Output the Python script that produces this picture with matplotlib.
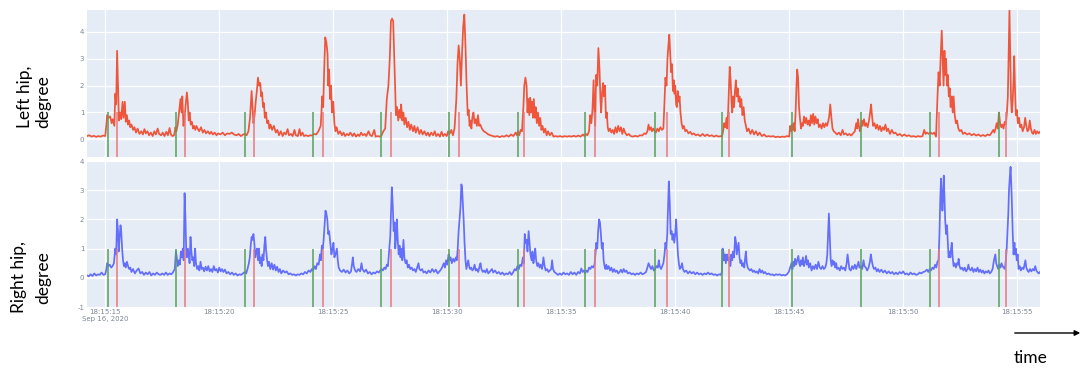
import numpy as np
import matplotlib
matplotlib.use("Agg")
import matplotlib.pyplot as plt

# ---------------- data (seconds after 18:15:00, value in degrees) ----------------
left_hip = [
    (14.20, 0.12), (14.30, 0.15), (14.40, 0.10), (14.50, 0.13), (14.60, 0.09), (14.70, 0.12), (14.80, 0.10), (14.90, 0.14), (15.00, 0.12),
    (15.05, 0.55), (15.08, 0.90), (15.15, 0.80), (15.22, 0.85), (15.28, 0.60), (15.33, 0.75), (15.40, 0.50), (15.44, 1.70), (15.48, 1.30),
    (15.52, 3.30), (15.56, 2.00), (15.60, 0.70), (15.65, 1.00), (15.70, 0.75), (15.76, 1.40), (15.80, 0.80), (15.86, 1.40), (15.90, 0.65),
    (15.95, 0.90), (16.00, 0.55), (16.05, 0.70), (16.10, 0.45), (16.15, 0.55), (16.22, 0.35), (16.28, 0.45), (16.35, 0.25), (16.42, 0.40),
    (16.50, 0.20), (16.58, 0.30), (16.65, 0.18), (16.72, 0.38), (16.78, 0.22), (16.85, 0.30), (16.92, 0.15), (17.00, 0.25), (17.08, 0.12),
    (17.15, 0.30), (17.22, 0.18), (17.30, 0.40), (17.36, 0.20), (17.45, 0.15), (17.52, 0.25), (17.60, 0.12), (17.68, 0.28), (17.75, 0.15),
    (17.82, 0.42), (17.88, 0.18), (17.95, 0.12), (18.02, 0.15),
    (18.08, 0.45), (18.12, 0.30), (18.18, 0.55), (18.25, 1.10), (18.30, 1.50), (18.35, 1.00), (18.38, 1.60), (18.43, 0.50), (18.48, 0.80),
    (18.52, 1.20), (18.58, 1.75), (18.62, 1.40), (18.66, 0.70), (18.70, 1.00), (18.75, 0.55), (18.80, 0.65), (18.85, 0.40), (18.90, 0.50),
    (18.95, 0.35), (19.00, 0.50), (19.05, 0.40), (19.12, 0.30), (19.20, 0.45), (19.28, 0.25), (19.35, 0.35), (19.42, 0.22), (19.50, 0.30),
    (19.58, 0.20), (19.65, 0.28), (19.72, 0.18), (19.80, 0.25), (19.88, 0.15), (19.95, 0.22), (20.05, 0.18), (20.15, 0.25), (20.25, 0.15),
    (20.35, 0.22), (20.45, 0.20), (20.55, 0.25), (20.65, 0.18), (20.75, 0.15), (20.85, 0.20), (20.95, 0.12), (21.05, 0.18),
    (21.12, 0.20), (21.20, 0.15), (21.28, 0.30), (21.35, 0.80), (21.42, 1.80), (21.46, 1.20), (21.50, 0.60), (21.55, 0.90), (21.60, 1.40),
    (21.65, 1.80), (21.70, 2.30), (21.75, 2.00), (21.80, 2.10), (21.84, 1.60), (21.88, 1.75), (21.92, 1.20), (21.96, 1.35), (22.00, 0.80),
    (22.05, 1.00), (22.10, 0.60), (22.15, 0.70), (22.20, 0.40), (22.25, 0.55), (22.32, 0.35), (22.40, 0.50), (22.48, 0.25), (22.55, 0.35),
    (22.62, 0.15), (22.70, 0.30), (22.78, 0.12), (22.85, 0.25), (22.92, 0.18), (23.00, 0.38), (23.06, 0.15), (23.15, 0.20), (23.22, 0.12),
    (23.30, 0.35), (23.36, 0.15), (23.45, 0.12), (23.52, 0.38), (23.58, 0.14), (23.65, 0.25), (23.72, 0.12), (23.80, 0.15), (23.90, 0.12),
    (24.00, 0.15), (24.08, 0.14),
    (24.15, 0.20), (24.25, 0.18), (24.35, 0.30), (24.45, 0.50), (24.52, 1.60), (24.56, 1.20), (24.60, 2.50), (24.65, 3.80), (24.70, 3.60),
    (24.75, 3.20), (24.78, 2.00), (24.82, 2.60), (24.86, 1.50), (24.90, 2.00), (24.95, 1.00), (25.00, 1.40), (25.05, 0.60), (25.10, 0.30),
    (25.15, 0.45), (25.22, 0.20), (25.30, 0.30), (25.38, 0.15), (25.45, 0.25), (25.52, 0.12), (25.60, 0.20), (25.68, 0.15), (25.75, 0.25),
    (25.85, 0.12), (25.92, 0.22), (26.00, 0.10), (26.08, 0.18), (26.15, 0.12), (26.22, 0.25), (26.30, 0.15), (26.38, 0.20), (26.45, 0.12),
    (26.55, 0.30), (26.62, 0.15), (26.70, 0.12), (26.80, 0.35), (26.86, 0.10), (26.95, 0.12), (27.05, 0.10),
    (27.12, 0.15), (27.20, 0.30), (27.28, 0.40), (27.35, 1.50), (27.42, 2.00), (27.48, 3.00), (27.53, 4.40), (27.58, 4.50), (27.63, 4.40),
    (27.68, 3.00), (27.72, 1.80), (27.75, 0.90), (27.80, 1.20), (27.85, 0.70), (27.90, 1.10), (27.95, 0.80), (27.98, 1.30), (28.03, 0.70),
    (28.08, 1.00), (28.12, 0.55), (28.18, 0.80), (28.24, 0.45), (28.30, 0.65), (28.36, 0.35), (28.42, 0.55), (28.50, 0.30), (28.56, 0.50),
    (28.62, 0.25), (28.70, 0.45), (28.78, 0.20), (28.85, 0.35), (28.92, 0.18), (29.00, 0.30), (29.08, 0.15), (29.15, 0.25), (29.22, 0.12),
    (29.30, 0.25), (29.38, 0.15), (29.45, 0.30), (29.52, 0.12), (29.60, 0.20), (29.68, 0.10), (29.75, 0.28), (29.82, 0.12), (29.90, 0.20),
    (29.98, 0.12), (30.04, 0.30),
    (30.10, 0.20), (30.18, 0.35), (30.25, 0.15), (30.32, 0.40), (30.40, 1.50), (30.45, 2.80), (30.50, 3.50), (30.55, 3.00), (30.60, 2.00),
    (30.65, 3.20), (30.70, 4.20), (30.75, 4.65), (30.80, 3.50), (30.85, 2.00), (30.90, 0.90), (30.94, 1.10), (30.98, 0.50), (31.02, 0.70),
    (31.06, 0.40), (31.10, 0.80), (31.15, 1.00), (31.20, 0.60), (31.25, 0.75), (31.30, 0.50), (31.35, 0.90), (31.40, 0.50), (31.45, 0.55),
    (31.52, 0.40), (31.60, 0.30), (31.70, 0.25), (31.80, 0.18), (31.90, 0.15), (32.00, 0.12), (32.10, 0.10), (32.20, 0.12), (32.30, 0.08),
    (32.40, 0.12), (32.50, 0.10), (32.60, 0.15), (32.70, 0.10), (32.80, 0.18), (32.90, 0.12), (33.00, 0.25), (33.06, 0.15),
    (33.10, 0.30), (33.16, 0.15), (33.22, 0.35), (33.28, 0.30), (33.34, 1.20), (33.38, 2.00), (33.43, 2.30), (33.48, 2.00), (33.52, 1.00),
    (33.56, 1.50), (33.60, 0.90), (33.64, 1.55), (33.68, 1.00), (33.72, 1.40), (33.76, 0.80), (33.80, 1.50), (33.84, 0.80), (33.88, 1.20),
    (33.93, 0.60), (33.98, 1.00), (34.03, 0.50), (34.08, 0.80), (34.13, 0.35), (34.18, 0.50), (34.24, 0.25), (34.30, 0.40), (34.36, 0.15),
    (34.42, 0.30), (34.50, 0.15), (34.58, 0.25), (34.66, 0.10), (34.75, 0.12), (34.85, 0.10), (34.95, 0.12), (35.05, 0.09), (35.15, 0.12),
    (35.25, 0.10), (35.35, 0.12), (35.45, 0.10), (35.55, 0.13), (35.65, 0.10), (35.75, 0.14), (35.85, 0.10), (35.95, 0.18), (36.02, 0.12),
    (36.08, 0.20), (36.15, 0.15), (36.22, 0.30), (36.27, 0.90), (36.32, 0.60), (36.37, 1.10), (36.42, 2.20), (36.46, 1.00), (36.49, 0.50),
    (36.53, 2.40), (36.58, 2.00), (36.63, 3.40), (36.68, 2.60), (36.72, 1.50), (36.75, 1.00), (36.80, 1.80), (36.84, 2.10), (36.88, 1.60),
    (36.92, 2.00), (36.96, 0.80), (37.00, 1.00), (37.04, 0.45), (37.08, 0.30), (37.14, 0.40), (37.20, 0.25), (37.26, 0.35), (37.32, 0.20),
    (37.38, 0.45), (37.44, 0.25), (37.50, 0.50), (37.56, 0.30), (37.62, 0.45), (37.68, 0.20), (37.74, 0.40), (37.80, 0.25), (37.88, 0.15),
    (37.96, 0.20), (38.05, 0.12), (38.15, 0.10), (38.25, 0.13), (38.35, 0.10), (38.45, 0.15), (38.55, 0.14), (38.65, 0.22), (38.72, 0.20),
    (38.78, 0.30), (38.83, 0.55), (38.88, 0.35), (38.94, 0.45), (38.98, 0.30), (39.04, 0.40), (39.10, 0.30),
    (39.15, 0.25), (39.22, 0.40), (39.28, 0.30), (39.35, 0.45), (39.42, 0.35), (39.48, 0.40), (39.53, 1.40), (39.57, 2.30), (39.62, 2.00),
    (39.66, 3.00), (39.70, 3.50), (39.74, 3.90), (39.78, 3.20), (39.82, 2.50), (39.86, 2.80), (39.90, 1.80), (39.94, 2.20), (39.97, 1.70),
    (40.00, 2.00), (40.04, 1.30), (40.07, 1.20), (40.11, 1.80), (40.15, 1.40), (40.19, 1.60), (40.23, 1.00), (40.28, 0.60), (40.33, 0.40),
    (40.38, 0.50), (40.44, 0.30), (40.50, 0.35), (40.58, 0.22), (40.66, 0.28), (40.74, 0.18), (40.82, 0.22), (40.90, 0.15), (41.00, 0.18),
    (41.10, 0.12), (41.20, 0.20), (41.30, 0.12), (41.40, 0.18), (41.50, 0.12), (41.60, 0.15), (41.70, 0.10), (41.80, 0.14), (41.90, 0.10),
    (42.00, 0.12), (42.05, 0.10),
    (42.10, 0.30), (42.15, 0.60), (42.20, 0.45), (42.25, 0.80), (42.28, 0.40), (42.32, 1.00), (42.36, 2.00), (42.39, 2.70), (42.43, 2.20),
    (42.47, 1.40), (42.50, 1.00), (42.54, 1.60), (42.58, 1.20), (42.62, 1.80), (42.66, 2.20), (42.70, 1.60), (42.74, 1.90), (42.78, 1.40),
    (42.82, 1.60), (42.86, 1.20), (42.90, 1.50), (42.95, 0.90), (43.00, 1.20), (43.05, 0.70), (43.10, 0.50), (43.15, 0.30), (43.22, 0.40),
    (43.30, 0.20), (43.38, 0.35), (43.46, 0.18), (43.54, 0.30), (43.62, 0.15), (43.70, 0.25), (43.80, 0.12), (43.90, 0.18), (44.00, 0.10),
    (44.10, 0.12), (44.20, 0.10), (44.30, 0.12), (44.40, 0.08), (44.50, 0.10), (44.60, 0.08), (44.70, 0.10), (44.80, 0.09), (44.90, 0.12),
    (45.00, 0.10),
    (45.04, 0.50), (45.08, 0.30), (45.12, 0.55), (45.16, 0.35), (45.20, 0.60), (45.24, 0.30), (45.28, 1.00), (45.32, 2.00), (45.35, 2.60),
    (45.39, 2.30), (45.43, 1.20), (45.47, 0.80), (45.52, 0.40), (45.56, 0.60), (45.60, 0.50), (45.65, 0.85), (45.70, 0.60), (45.75, 0.80),
    (45.80, 0.55), (45.85, 0.70), (45.90, 0.50), (45.95, 0.90), (46.00, 0.60), (46.05, 0.95), (46.10, 0.55), (46.15, 0.85), (46.20, 0.60),
    (46.25, 0.75), (46.30, 0.45), (46.36, 0.55), (46.42, 0.40), (46.48, 0.60), (46.54, 0.45), (46.60, 0.60), (46.66, 0.50), (46.72, 0.70),
    (46.76, 0.90), (46.80, 1.30), (46.85, 0.80), (46.90, 0.40), (46.95, 0.30), (47.02, 0.25), (47.10, 0.18), (47.18, 0.25), (47.26, 0.15),
    (47.34, 0.35), (47.40, 0.18), (47.48, 0.22), (47.56, 0.15), (47.64, 0.20), (47.72, 0.14), (47.80, 0.22), (47.88, 0.30), (47.94, 0.60),
    (47.98, 0.40), (48.02, 0.75), (48.06, 0.50), (48.10, 0.30), (48.14, 0.40), (48.18, 0.70), (48.22, 0.50), (48.28, 0.75), (48.33, 0.50),
    (48.38, 0.60), (48.44, 0.45), (48.50, 0.70), (48.55, 1.00), (48.59, 1.30), (48.63, 0.90), (48.68, 0.50), (48.74, 0.60), (48.80, 0.40),
    (48.86, 0.55), (48.92, 0.35), (48.98, 0.50), (49.04, 0.30), (49.10, 0.45), (49.16, 0.35), (49.22, 0.55), (49.28, 0.30), (49.34, 0.40),
    (49.42, 0.20), (49.50, 0.35), (49.58, 0.22), (49.66, 0.25), (49.75, 0.15), (49.85, 0.20), (49.95, 0.12), (50.05, 0.18), (50.15, 0.12),
    (50.25, 0.15), (50.35, 0.10), (50.45, 0.12), (50.55, 0.09), (50.65, 0.12), (50.75, 0.10), (50.85, 0.12), (50.92, 0.35), (50.98, 0.20),
    (51.05, 0.25), (51.12, 0.20),
    (51.20, 0.25), (51.28, 0.20), (51.36, 0.25), (51.44, 0.10), (51.50, 1.50), (51.55, 2.50), (51.60, 2.00), (51.64, 3.00), (51.69, 4.05),
    (51.73, 3.00), (51.77, 2.00), (51.81, 3.30), (51.84, 2.40), (51.88, 3.00), (51.92, 2.00), (51.96, 2.40), (52.00, 1.60), (52.04, 1.90),
    (52.08, 1.20), (52.13, 1.60), (52.17, 1.00), (52.21, 1.60), (52.26, 0.90), (52.31, 0.60), (52.36, 0.70), (52.42, 0.40), (52.48, 0.30),
    (52.55, 0.35), (52.62, 0.20), (52.70, 0.25), (52.80, 0.18), (52.90, 0.22), (53.00, 0.15), (53.10, 0.20), (53.20, 0.14), (53.30, 0.18),
    (53.40, 0.12), (53.50, 0.16), (53.60, 0.12), (53.70, 0.18), (53.80, 0.15), (53.88, 0.25), (53.95, 0.35), (54.00, 0.25),
    (54.05, 0.40), (54.10, 0.60), (54.15, 0.40), (54.20, 1.00), (54.25, 0.60), (54.30, 0.45), (54.35, 0.55), (54.40, 0.40), (54.45, 0.65),
    (54.50, 0.55), (54.55, 1.00), (54.59, 1.60), (54.63, 3.50), (54.66, 4.80), (54.70, 3.00), (54.73, 1.50), (54.76, 1.00), (54.80, 1.40),
    (54.84, 2.20), (54.87, 3.10), (54.90, 2.00), (54.94, 0.90), (54.98, 1.10), (55.03, 0.60), (55.08, 0.80), (55.13, 0.45), (55.18, 0.55),
    (55.24, 0.30), (55.30, 0.45), (55.35, 0.80), (55.40, 0.50), (55.45, 0.30), (55.50, 0.35), (55.55, 0.70), (55.60, 0.40), (55.65, 0.25),
    (55.70, 0.20), (55.76, 0.35), (55.82, 0.20), (55.88, 0.30), (55.94, 0.22), (56.00, 0.28),
]

right_hip = [
    (14.20, 0.08), (14.28, 0.05), (14.36, 0.12), (14.44, 0.06), (14.52, 0.15), (14.60, 0.08), (14.68, 0.12), (14.76, 0.10), (14.84, 0.18),
    (14.92, 0.10), (15.00, 0.12),
    (15.05, 0.30), (15.08, 0.50), (15.14, 0.40), (15.20, 0.45), (15.26, 0.35), (15.32, 0.40), (15.38, 0.50), (15.44, 1.00), (15.48, 0.80),
    (15.52, 2.00), (15.56, 1.60), (15.59, 0.90), (15.63, 1.40), (15.67, 1.80), (15.70, 1.60), (15.74, 1.00), (15.78, 0.60), (15.82, 0.40),
    (15.86, 0.50), (15.90, 0.35), (15.95, 0.55), (16.00, 0.40), (16.05, 0.30), (16.10, 0.35), (16.15, 0.20), (16.22, 0.30), (16.30, 0.15),
    (16.38, 0.25), (16.46, 0.32), (16.54, 0.15), (16.62, 0.20), (16.70, 0.10), (16.78, 0.18), (16.86, 0.12), (16.94, 0.20), (17.02, 0.08),
    (17.10, 0.15), (17.18, 0.10), (17.26, 0.18), (17.34, 0.12), (17.42, 0.10), (17.50, 0.15), (17.58, 0.10), (17.66, 0.18), (17.74, 0.10),
    (17.82, 0.15), (17.90, 0.12), (17.98, 0.20),
    (18.05, 0.30), (18.10, 0.90), (18.14, 0.70), (18.18, 0.40), (18.22, 0.60), (18.27, 0.45), (18.32, 0.90), (18.36, 0.70), (18.40, 1.00),
    (18.44, 0.60), (18.48, 2.90), (18.52, 2.00), (18.55, 1.00), (18.58, 0.70), (18.62, 1.00), (18.66, 0.80), (18.70, 0.50), (18.74, 1.40),
    (18.78, 0.90), (18.82, 0.60), (18.86, 0.70), (18.90, 0.40), (18.94, 1.00), (18.98, 0.50), (19.03, 0.30), (19.08, 0.40), (19.13, 0.25),
    (19.18, 0.55), (19.23, 0.30), (19.28, 0.35), (19.34, 0.22), (19.40, 0.38), (19.46, 0.25), (19.52, 0.40), (19.58, 0.22), (19.64, 0.30),
    (19.70, 0.20), (19.76, 0.40), (19.82, 0.25), (19.88, 0.30), (19.94, 0.18), (20.00, 0.35), (20.06, 0.22), (20.12, 0.30), (20.18, 0.20),
    (20.25, 0.28), (20.32, 0.15), (20.40, 0.20), (20.48, 0.12), (20.56, 0.18), (20.64, 0.10), (20.72, 0.15), (20.80, 0.08), (20.88, 0.12),
    (20.96, 0.10), (21.04, 0.15),
    (21.12, 0.20), (21.18, 0.15), (21.24, 0.30), (21.30, 0.50), (21.34, 0.70), (21.38, 1.10), (21.42, 1.40), (21.46, 1.30), (21.50, 1.50),
    (21.54, 1.20), (21.58, 0.70), (21.62, 0.90), (21.66, 1.00), (21.70, 0.60), (21.74, 1.00), (21.78, 0.50), (21.82, 0.70), (21.86, 0.40),
    (21.90, 0.80), (21.94, 0.60), (21.98, 1.10), (22.02, 1.40), (22.06, 0.90), (22.10, 0.60), (22.14, 0.40), (22.18, 0.55), (22.24, 0.30),
    (22.30, 0.50), (22.36, 0.28), (22.42, 0.45), (22.48, 0.25), (22.54, 0.38), (22.60, 0.20), (22.66, 0.30), (22.72, 0.15), (22.80, 0.25),
    (22.88, 0.18), (22.96, 0.22), (23.04, 0.12), (23.12, 0.15), (23.20, 0.10), (23.28, 0.12), (23.36, 0.08), (23.44, 0.12), (23.52, 0.10),
    (23.60, 0.15), (23.68, 0.12), (23.76, 0.20), (23.84, 0.15), (23.92, 0.25), (24.00, 0.20), (24.06, 0.30),
    (24.12, 0.25), (24.18, 0.40), (24.24, 0.30), (24.30, 0.50), (24.36, 0.45), (24.42, 0.80), (24.46, 0.60), (24.50, 1.10), (24.54, 1.00),
    (24.58, 1.30), (24.62, 1.80), (24.66, 2.30), (24.70, 2.20), (24.74, 2.00), (24.78, 1.50), (24.82, 1.60), (24.87, 1.20), (24.92, 0.80),
    (24.97, 1.00), (25.01, 1.20), (25.05, 0.70), (25.10, 0.80), (25.16, 1.00), (25.20, 0.60), (25.24, 0.35), (25.30, 0.25), (25.38, 0.20),
    (25.46, 0.28), (25.54, 0.18), (25.62, 0.25), (25.70, 0.15), (25.78, 0.22), (25.83, 0.50), (25.86, 0.70), (25.90, 0.40), (25.96, 0.25),
    (26.02, 0.20), (26.10, 0.30), (26.18, 0.22), (26.24, 0.50), (26.28, 0.30), (26.36, 0.20), (26.44, 0.28), (26.52, 0.15), (26.60, 0.20),
    (26.68, 0.12), (26.76, 0.18), (26.84, 0.15), (26.92, 0.22), (27.00, 0.18), (27.06, 0.25),
    (27.12, 0.30), (27.18, 0.25), (27.24, 0.35), (27.30, 0.30), (27.35, 0.45), (27.40, 0.40), (27.45, 0.90), (27.50, 1.40), (27.54, 2.40),
    (27.57, 3.10), (27.61, 2.50), (27.65, 1.60), (27.69, 1.90), (27.72, 1.00), (27.76, 1.40), (27.79, 2.00), (27.83, 1.30), (27.87, 0.80),
    (27.91, 1.10), (27.95, 0.70), (27.99, 1.00), (28.03, 0.60), (28.08, 1.30), (28.12, 0.70), (28.17, 0.50), (28.22, 0.60), (28.27, 0.35),
    (28.32, 0.45), (28.38, 0.30), (28.44, 0.35), (28.50, 0.25), (28.56, 0.30), (28.62, 0.20), (28.68, 0.35), (28.74, 0.50), (28.78, 0.30),
    (28.84, 0.25), (28.90, 0.30), (28.96, 0.18), (29.03, 0.22), (29.10, 0.15), (29.18, 0.25), (29.26, 0.18), (29.34, 0.30), (29.42, 0.20),
    (29.50, 0.28), (29.58, 0.15), (29.66, 0.22), (29.74, 0.30), (29.80, 0.40), (29.85, 0.50), (29.90, 0.35), (29.95, 0.60), (30.00, 0.45),
    (30.06, 0.80), (30.10, 0.60), (30.15, 0.70), (30.20, 0.50), (30.26, 0.65), (30.32, 0.55), (30.38, 0.70), (30.42, 0.60), (30.46, 1.00),
    (30.50, 1.60), (30.54, 2.00), (30.58, 2.40), (30.62, 3.20), (30.65, 3.10), (30.69, 2.50), (30.72, 2.00), (30.76, 1.20), (30.80, 0.60),
    (30.84, 0.30), (30.88, 0.45), (30.92, 0.60), (30.96, 0.40), (31.00, 0.30), (31.05, 0.35), (31.10, 0.25), (31.15, 0.30), (31.20, 0.45),
    (31.25, 0.25), (31.30, 0.30), (31.36, 0.20), (31.42, 0.40), (31.46, 0.50), (31.50, 0.30), (31.56, 0.20), (31.62, 0.25), (31.68, 0.18),
    (31.74, 0.30), (31.80, 0.15), (31.88, 0.22), (31.96, 0.30), (32.02, 0.18), (32.10, 0.25), (32.18, 0.15), (32.26, 0.20), (32.34, 0.12),
    (32.42, 0.18), (32.50, 0.10), (32.58, 0.15), (32.66, 0.12), (32.74, 0.20), (32.82, 0.10), (32.90, 0.20), (32.96, 0.30), (33.02, 0.25),
    (33.08, 0.40), (33.14, 0.30), (33.20, 0.45), (33.26, 0.40), (33.32, 0.70), (33.36, 0.50), (33.40, 1.50), (33.44, 1.20), (33.48, 1.30),
    (33.52, 0.90), (33.57, 1.60), (33.61, 1.20), (33.65, 0.80), (33.70, 0.60), (33.74, 0.90), (33.78, 0.50), (33.82, 0.70), (33.86, 1.00),
    (33.90, 0.60), (33.95, 0.40), (34.00, 0.50), (34.05, 0.35), (34.10, 0.45), (34.16, 0.30), (34.22, 0.70), (34.27, 0.40), (34.32, 0.25),
    (34.38, 0.30), (34.44, 0.20), (34.50, 0.25), (34.56, 0.30), (34.60, 0.60), (34.64, 0.30), (34.70, 0.20), (34.78, 0.15), (34.86, 0.10),
    (34.94, 0.15), (35.02, 0.10), (35.10, 0.18), (35.18, 0.12), (35.26, 0.15), (35.34, 0.10), (35.42, 0.20), (35.50, 0.12), (35.58, 0.18),
    (35.66, 0.10), (35.74, 0.20), (35.82, 0.15), (35.88, 0.32), (35.94, 0.20), (36.00, 0.25),
    (36.05, 0.15), (36.10, 0.25), (36.16, 0.20), (36.22, 0.35), (36.28, 0.30), (36.34, 0.40), (36.40, 0.35), (36.46, 0.45), (36.50, 0.80),
    (36.54, 1.20), (36.58, 1.00), (36.62, 1.60), (36.66, 2.00), (36.70, 1.90), (36.74, 1.50), (36.78, 1.00), (36.82, 1.20), (36.86, 0.60),
    (36.90, 0.40), (36.94, 0.30), (36.98, 0.45), (37.02, 0.30), (37.08, 0.40), (37.14, 0.25), (37.20, 0.35), (37.26, 0.20), (37.32, 0.30),
    (37.38, 0.20), (37.44, 0.25), (37.50, 0.15), (37.56, 0.20), (37.62, 0.28), (37.68, 0.18), (37.74, 0.30), (37.80, 0.20), (37.86, 0.25),
    (37.92, 0.15), (38.00, 0.18), (38.08, 0.12), (38.16, 0.15), (38.24, 0.10), (38.32, 0.15), (38.40, 0.12), (38.48, 0.18), (38.56, 0.12),
    (38.64, 0.15), (38.72, 0.20), (38.78, 0.35), (38.83, 0.50), (38.88, 0.40), (38.94, 0.30), (39.00, 0.40), (39.06, 0.25), (39.12, 0.30),
    (39.18, 0.40), (39.24, 0.35), (39.28, 0.60), (39.32, 0.40), (39.38, 0.30), (39.43, 0.40), (39.48, 0.50), (39.53, 0.80), (39.57, 1.20),
    (39.61, 1.00), (39.65, 1.50), (39.69, 2.50), (39.72, 3.30), (39.76, 2.60), (39.80, 1.50), (39.84, 1.60), (39.88, 1.30), (39.92, 1.50),
    (39.96, 1.20), (40.00, 1.50), (40.04, 2.00), (40.08, 1.40), (40.12, 0.80), (40.16, 0.50), (40.20, 0.30), (40.25, 0.35), (40.30, 0.50),
    (40.34, 0.30), (40.40, 0.20), (40.48, 0.25), (40.56, 0.15), (40.64, 0.22), (40.72, 0.15), (40.80, 0.20), (40.88, 0.12), (40.96, 0.18),
    (41.04, 0.12), (41.12, 0.15), (41.20, 0.10), (41.28, 0.15), (41.36, 0.12), (41.44, 0.18), (41.52, 0.12), (41.60, 0.15), (41.68, 0.10),
    (41.76, 0.12), (41.84, 0.08), (41.92, 0.12), (42.00, 0.10), (42.05, 0.20),
    (42.08, 1.00), (42.11, 0.90), (42.14, 0.60), (42.18, 0.80), (42.22, 0.50), (42.27, 0.80), (42.31, 0.60), (42.35, 0.70), (42.38, 0.50),
    (42.42, 0.40), (42.46, 0.80), (42.50, 0.60), (42.54, 0.90), (42.58, 0.70), (42.63, 1.40), (42.67, 1.20), (42.70, 0.80), (42.74, 1.00),
    (42.78, 1.20), (42.82, 0.70), (42.86, 0.50), (42.90, 0.60), (42.94, 0.40), (42.98, 0.50), (43.03, 0.35), (43.07, 0.70), (43.10, 0.90),
    (43.14, 0.50), (43.18, 0.35), (43.22, 0.30), (43.28, 0.25), (43.34, 0.30), (43.40, 0.20), (43.46, 0.25), (43.52, 0.18), (43.58, 0.22),
    (43.64, 0.15), (43.70, 0.30), (43.76, 0.18), (43.82, 0.25), (43.88, 0.15), (43.94, 0.20), (44.02, 0.12), (44.10, 0.15), (44.18, 0.10),
    (44.26, 0.12), (44.34, 0.08), (44.42, 0.12), (44.50, 0.10), (44.58, 0.12), (44.66, 0.08), (44.74, 0.10), (44.82, 0.08), (44.90, 0.12),
    (44.98, 0.20),
    (45.04, 0.35), (45.10, 0.50), (45.14, 0.30), (45.18, 0.55), (45.22, 0.40), (45.26, 0.65), (45.30, 0.45), (45.35, 0.60), (45.40, 0.75),
    (45.44, 0.50), (45.48, 0.40), (45.52, 0.60), (45.56, 0.45), (45.60, 0.70), (45.65, 0.40), (45.70, 0.55), (45.74, 0.75), (45.78, 0.45),
    (45.82, 0.60), (45.86, 0.35), (45.92, 0.50), (45.98, 0.25), (46.04, 0.40), (46.10, 0.30), (46.16, 0.45), (46.22, 0.30), (46.28, 0.55),
    (46.34, 0.35), (46.40, 0.30), (46.46, 0.40), (46.52, 0.30), (46.58, 0.35), (46.63, 0.50), (46.67, 0.80), (46.71, 1.60), (46.74, 2.20),
    (46.78, 1.40), (46.82, 0.60), (46.86, 0.40), (46.90, 0.60), (46.94, 0.45), (46.98, 0.55), (47.02, 0.35), (47.06, 0.50), (47.10, 0.30),
    (47.16, 0.35), (47.22, 0.25), (47.28, 0.40), (47.34, 0.30), (47.40, 0.35), (47.46, 0.25), (47.52, 0.50), (47.56, 0.80), (47.60, 0.55),
    (47.64, 0.30), (47.70, 0.25), (47.76, 0.40), (47.82, 0.30), (47.88, 0.45), (47.94, 0.30), (48.00, 0.45), (48.04, 0.55), (48.08, 0.35),
    (48.14, 0.40), (48.20, 0.30), (48.26, 0.60), (48.30, 0.40), (48.36, 0.35), (48.42, 0.25), (48.48, 0.35), (48.54, 0.55), (48.58, 0.80),
    (48.62, 0.60), (48.67, 0.40), (48.72, 0.30), (48.78, 0.35), (48.84, 0.22), (48.90, 0.30), (48.96, 0.20), (49.04, 0.28), (49.12, 0.18),
    (49.20, 0.25), (49.28, 0.15), (49.36, 0.22), (49.44, 0.15), (49.52, 0.20), (49.60, 0.12), (49.68, 0.18), (49.76, 0.12), (49.84, 0.20),
    (49.92, 0.15), (50.00, 0.22), (50.08, 0.12), (50.16, 0.15), (50.24, 0.10), (50.32, 0.18), (50.40, 0.12), (50.48, 0.15), (50.56, 0.10),
    (50.64, 0.12), (50.72, 0.18), (50.80, 0.15), (50.88, 0.20), (50.96, 0.22), (51.04, 0.28), (51.10, 0.20),
    (51.16, 0.30), (51.22, 0.25), (51.28, 0.35), (51.34, 0.30), (51.40, 0.45), (51.45, 0.35), (51.50, 0.55), (51.55, 0.60), (51.59, 1.50),
    (51.63, 2.80), (51.66, 3.40), (51.69, 2.80), (51.72, 2.30), (51.75, 2.80), (51.78, 3.50), (51.81, 2.80), (51.84, 2.00), (51.88, 1.50),
    (51.92, 1.80), (51.96, 1.20), (51.99, 0.70), (52.03, 0.90), (52.07, 0.70), (52.10, 1.00), (52.13, 1.20), (52.17, 0.70), (52.21, 0.40),
    (52.26, 0.50), (52.31, 0.35), (52.36, 0.50), (52.40, 0.45), (52.43, 0.65), (52.47, 0.40), (52.52, 0.30), (52.58, 0.35), (52.64, 0.25),
    (52.70, 0.35), (52.76, 0.22), (52.82, 0.30), (52.86, 0.45), (52.90, 0.30), (52.96, 0.25), (53.02, 0.35), (53.08, 0.20), (53.14, 0.30),
    (53.20, 0.22), (53.26, 0.35), (53.32, 0.20), (53.38, 0.28), (53.44, 0.18), (53.50, 0.25), (53.56, 0.15), (53.62, 0.22), (53.68, 0.18),
    (53.74, 0.25), (53.80, 0.15), (53.86, 0.20), (53.92, 0.30), (53.98, 0.60), (54.04, 0.80), (54.08, 0.50),
    (54.12, 0.40), (54.17, 0.30), (54.22, 0.45), (54.27, 0.35), (54.31, 0.50), (54.36, 0.40), (54.41, 0.35), (54.46, 0.30), (54.50, 0.60),
    (54.54, 1.00), (54.57, 1.50), (54.61, 2.20), (54.64, 3.00), (54.68, 3.50), (54.71, 3.80), (54.74, 3.20), (54.77, 2.50), (54.80, 1.60),
    (54.84, 0.80), (54.88, 1.20), (54.91, 0.80), (54.94, 1.00), (54.98, 0.60), (55.02, 0.80), (55.06, 0.30), (55.11, 0.40), (55.16, 0.25),
    (55.22, 0.35), (55.28, 0.30), (55.32, 0.45), (55.36, 0.60), (55.40, 0.35), (55.45, 0.25), (55.50, 0.20), (55.56, 0.30), (55.62, 0.22),
    (55.68, 0.30), (55.74, 0.25), (55.79, 0.40), (55.84, 0.25), (55.90, 0.18), (55.95, 0.15), (56.00, 0.20),
]

green_events = [15.10, 18.10, 21.13, 24.11, 27.11, 30.07, 33.10, 36.05, 39.12, 42.07, 45.12, 48.14, 51.18, 54.18]
red_events = [15.51, 18.48, 21.54, 24.57, 27.54, 30.51, 33.35, 36.46, 39.65, 42.37, 51.55, 54.50]

tick_seconds = [15, 20, 25, 30, 35, 40, 45, 50, 55]
tick_labels = ["18:15:15\nSep 16, 2020", "18:15:20", "18:15:25", "18:15:30", "18:15:35",
               "18:15:40", "18:15:45", "18:15:50", "18:15:55"]
top_yticks = [0, 1, 2, 3, 4]
bottom_yticks = [-1, 0, 1, 2, 3, 4]

BASE = np.datetime64("2020-09-16T18:15:00.000")


def to_time(sec):
    ms = np.round(np.asarray(sec, dtype=float) * 1000).astype("int64")
    return BASE + ms.astype("timedelta64[ms]")


# ---------------- figure ----------------
W, H = 1083, 369
fig = plt.figure(figsize=(W / 100, H / 100), dpi=100)
fig.patch.set_facecolor("white")

def px_axes(x0, y0, x1, y1):
    return fig.add_axes([x0 / W, 1 - y1 / H, (x1 - x0) / W, (y1 - y0) / H])

ax_top = px_axes(87, 10, 1040, 157)
ax_bot = px_axes(87, 161, 1040, 307)

BG = "#E5ECF6"
TICK_COLOR = "#7d8794"
series = [(ax_top, left_hip, "#EF553B", top_yticks, (-0.66, 4.82)),
          (ax_bot, right_hip, "#636EFA", bottom_yticks, (-1.0, 4.0))]

for ax, data, color, yticks, ylim in series:
    t = to_time([p[0] for p in data])
    v = np.array([p[1] for p in data])
    ax.set_facecolor(BG)
    for s in ax.spines.values():
        s.set_visible(False)
    ax.grid(True, color="white", linewidth=0.9, zorder=0)
    ax.set_axisbelow(True)
    ax.axhline(0, color="white", linewidth=1.6, zorder=1)
    ax.plot(t, v, color=color, linewidth=1.25, zorder=3)
    ax.vlines(to_time(green_events), -1, 1, color="#55a05a", linewidth=1.1, zorder=4)
    ax.vlines(to_time(red_events), -1, 1, color="#e8797d", linewidth=1.1, zorder=4)
    ax.set_ylim(*ylim)
    ax.set_yticks(yticks)
    ax.set_yticklabels([str(y) for y in yticks])
    ax.set_xlim(t[0], t[-1])
    ax.set_xticks(to_time(tick_seconds))
    ax.tick_params(axis="both", length=0, labelsize=5, colors=TICK_COLOR, pad=2)

ax_top.set_xticklabels([])
ax_bot.set_xticklabels(tick_labels, multialignment="center")
ax_bot.tick_params(axis="x", pad=1.5)

# side labels
LBL = dict(family=["Lato", "DejaVu Sans"], fontsize=12.5, color="black",
           rotation=90, ha="center", va="center")
fig.text(25 / W, 1 - 97 / H, "Left hip,", **LBL)
fig.text(43 / W, 1 - 102 / H, "degree", **LBL)
fig.text(19 / W, 1 - 277 / H, "Right hip,", **LBL)
fig.text(43 / W, 1 - 278 / H, "degree", **LBL)

# time arrow
fig.add_artist(matplotlib.patches.FancyArrowPatch(
    (1012 / W, 1 - 333 / H), (1083 / W, 1 - 333 / H), transform=fig.transFigure,
    arrowstyle="-|>", mutation_scale=8, color="black", linewidth=1.0))
fig.text(1031 / W, 1 - 358 / H, "time", family=["Lato", "DejaVu Sans"], fontsize=12.5,
         ha="center", va="center", color="black")

fig.savefig("out.png", dpi=100, facecolor="white")
